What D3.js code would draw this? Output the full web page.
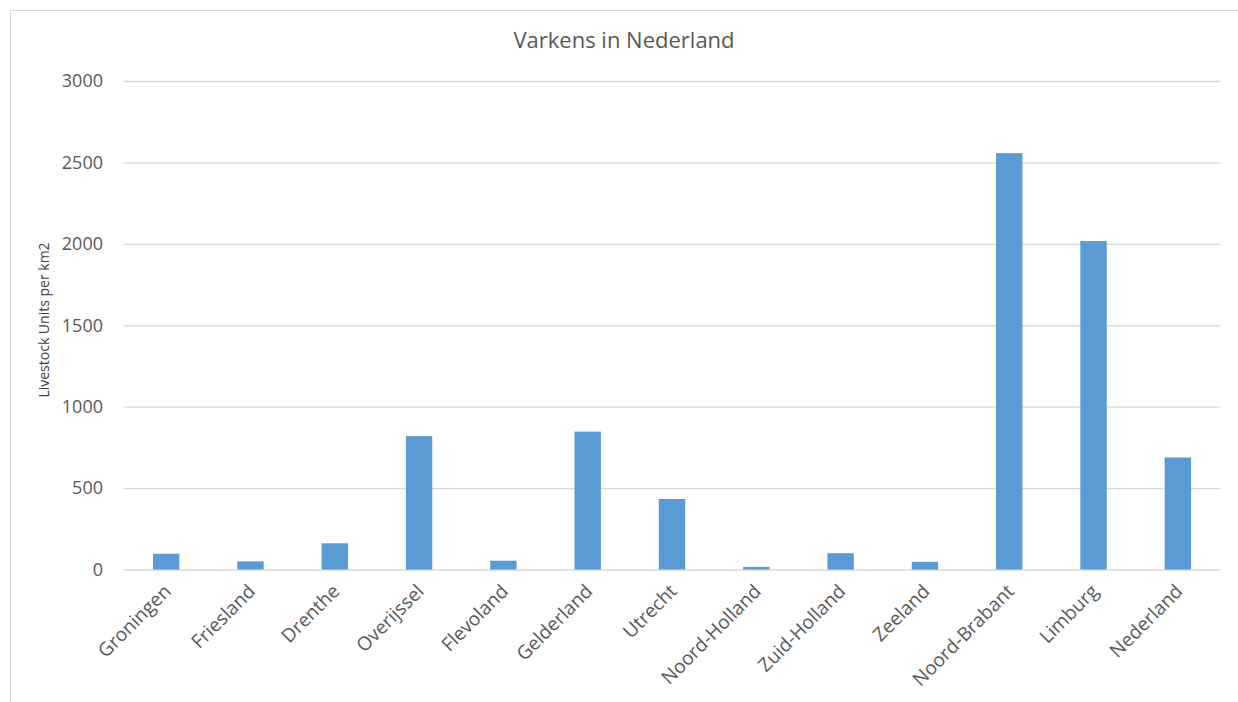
<!DOCTYPE html>
<html>
<head>
<meta charset="utf-8">
<script src="https://cdn.jsdelivr.net/npm/d3@7"></script>
<style>
  html, body { margin: 0; padding: 0; background: #fff; }
  svg { display: block; font-family: "Open Sans", "Segoe UI", sans-serif; }
</style>
</head>
<body>
<svg id="chart" width="1238" height="702"></svg>
<script>
// Provinces and the national average
const provinces = ["Groningen", "Friesland", "Drenthe", "Overijssel", "Flevoland", "Gelderland",
  "Utrecht", "Noord-Holland", "Zuid-Holland", "Zeeland", "Noord-Brabant", "Limburg", "Nederland"];
// Pig livestock units per km2
const livestockUnits = [97, 50, 161, 819, 54, 847, 433, 16, 100, 47, 2557, 2017, 688];
const yTicks = [0, 500, 1000, 1500, 2000, 2500, 3000];

const chartTitle = "Varkens in Nederland";
const yAxisTitle = "Livestock Units per km2";

const svg = d3.select("#chart");
const W = 1238, H = 702;
const plot = { left: 124, right: 1220, top: 81, bottom: 569.5 };
const FONT = "'Open Sans', 'Segoe UI', sans-serif";

// outer chart frame
svg.append("rect")
  .attr("x", 10.5).attr("y", 10.5)
  .attr("width", W + 20).attr("height", H + 20)
  .attr("fill", "#fff").attr("stroke", "#d9d9d9").attr("stroke-width", 1);

const x = d3.scaleBand()
  .domain(provinces)
  .range([plot.left, plot.right])
  .paddingInner(0.687)
  .paddingOuter(0.3435);

const y = d3.scaleLinear()
  .domain([0, 3000])
  .range([plot.bottom, plot.top]);

// horizontal gridlines + value labels
const yAxis = d3.axisLeft(y)
  .tickValues(yTicks)
  .tickSize(-(plot.right - plot.left))
  .tickPadding(21)
  .tickFormat(d3.format("d"));

const gy = svg.append("g")
  .attr("transform", `translate(${plot.left},0)`)
  .call(yAxis)
  .attr("font-family", FONT);
gy.select(".domain").remove();
gy.selectAll(".tick line").attr("stroke", "#d9d9d9").attr("stroke-width", 1.4);
gy.selectAll(".tick text")
  .attr("fill", "#595959")
  .style("font-size", "18px");

// bars
svg.append("g")
  .selectAll("rect")
  .data(provinces.map((p, i) => ({ p, v: livestockUnits[i] })))
  .join("rect")
  .attr("x", d => x(d.p))
  .attr("width", x.bandwidth())
  .attr("y", d => y(d.v))
  .attr("height", d => y(0) - y(d.v))
  .attr("fill", "#5b9bd5");

// category axis (rotated labels)
const xAxis = d3.axisBottom(x).tickSize(0).tickPadding(0);
const gx = svg.append("g")
  .attr("transform", `translate(0,${plot.bottom})`)
  .call(xAxis)
  .attr("font-family", FONT);
gx.select(".domain").remove();
gx.selectAll(".tick text")
  .attr("fill", "#595959")
  .style("font-size", "19px")
  .attr("text-anchor", "end")
  .attr("dy", null)
  .attr("transform", "translate(6,23) rotate(-45)");

// chart title
svg.append("text")
  .attr("x", 624).attr("y", 48)
  .attr("text-anchor", "middle")
  .attr("fill", "#595959")
  .style("font-size", "22px")
  .text(chartTitle);

// y axis title
svg.append("text")
  .attr("transform", "translate(49,320) rotate(-90)")
  .attr("text-anchor", "middle")
  .attr("fill", "#404040")
  .style("font-size", "14px")
  .text(yAxisTitle);
</script>
</body>
</html>
